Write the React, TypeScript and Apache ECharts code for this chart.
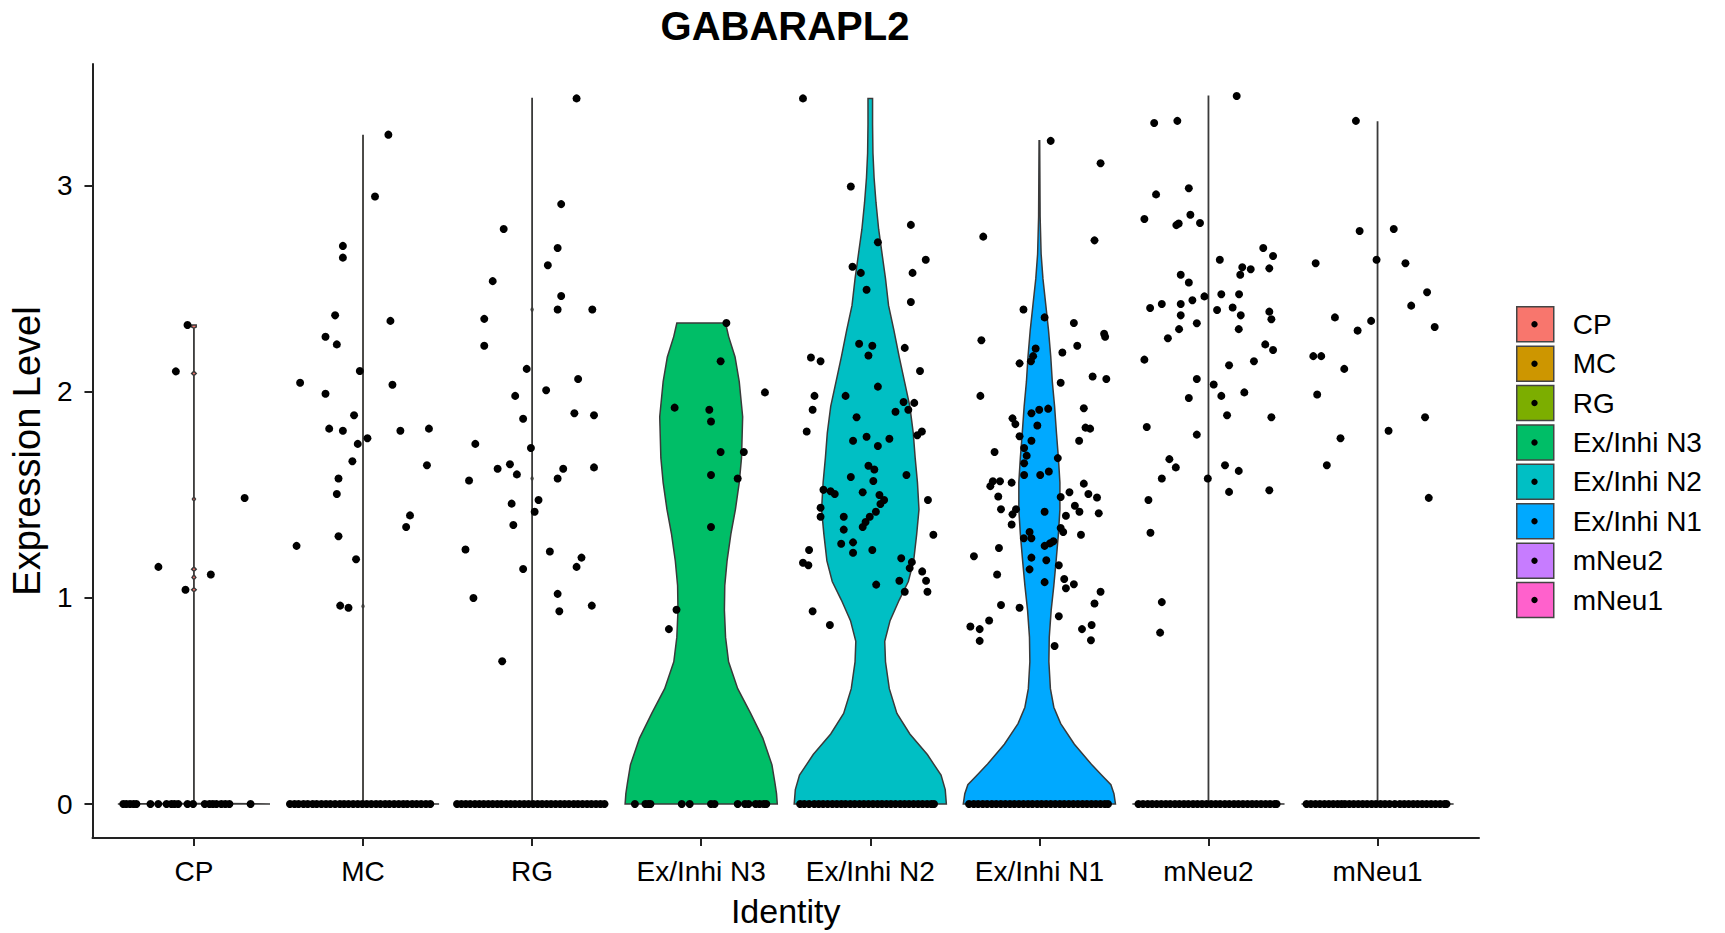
import React, { useEffect, useRef } from "react";
import * as echarts from "echarts";

// ---------------- data ----------------
const identities = ["CP", "MC", "RG", "Ex/Inhi N3", "Ex/Inhi N2", "Ex/Inhi N1", "mNeu2", "mNeu1"];
const colors = ["#F8766D", "#CD9600", "#7CAE00", "#00BE67", "#00BFC4", "#00A9FF", "#C77CFF", "#FF61CC"];
const yTicks = [0, 1, 2, 3];
const xTicks = [1, 2, 3, 4, 5, 6, 7, 8];

// violin outlines: [expression value, relative half-width (1 = widest violin)]
const violinCP = [[0, 1], [0.004, 0.002], [1.03, 0.002], [1.04, 0.03], [1.05, 0.002], [1.09, 0.002], [1.1, 0.025], [1.112, 0.002], [1.13, 0.002], [1.14, 0.03], [1.15, 0.002], [1.47, 0.002], [1.48, 0.02], [1.49, 0.002], [2.08, 0.002], [2.09, 0.03], [2.1, 0.002], [2.31, 0.002], [2.315, 0.03], [2.325, 0.03]];
const violinMC = [[0, 1], [0.004, 0.002], [0.95, 0.002], [0.96, 0.012], [0.97, 0.002], [3.245, 0.002]];
const violinRG = [[0, 1], [0.004, 0.002], [1.57, 0.002], [1.58, 0.012], [1.59, 0.002], [2.39, 0.002], [2.4, 0.012], [2.41, 0.002], [3.425, 0.002]];
const violinN3 = [[0, 1], [0.05, 0.99], [0.1, 0.97], [0.19, 0.93], [0.32, 0.81], [0.44, 0.65], [0.56, 0.48], [0.69, 0.36], [0.81, 0.32], [0.94, 0.305], [1.06, 0.31], [1.18, 0.34], [1.31, 0.39], [1.43, 0.45], [1.56, 0.5], [1.68, 0.53], [1.88, 0.545], [2.05, 0.5], [2.17, 0.445], [2.27, 0.36], [2.335, 0.32]];
const violinN2 = [[0, 1], [0.07, 0.985], [0.14, 0.93], [0.24, 0.75], [0.34, 0.52], [0.44, 0.35], [0.56, 0.25], [0.69, 0.2], [0.79, 0.19], [0.89, 0.26], [0.99, 0.38], [1.08, 0.5], [1.18, 0.57], [1.31, 0.61], [1.43, 0.64], [1.56, 0.62], [1.68, 0.59], [1.8, 0.565], [1.93, 0.52], [2.05, 0.45], [2.17, 0.38], [2.3, 0.31], [2.42, 0.24], [2.55, 0.2], [2.67, 0.155], [2.79, 0.11], [2.92, 0.075], [3.04, 0.05], [3.16, 0.035], [3.3, 0.03], [3.425, 0.03]];
const violinN1 = [[0, 1], [0.05, 0.98], [0.094, 0.94], [0.14, 0.82], [0.19, 0.69], [0.29, 0.46], [0.39, 0.28], [0.47, 0.19], [0.56, 0.145], [0.69, 0.125], [0.81, 0.13], [0.94, 0.155], [1.06, 0.19], [1.18, 0.22], [1.31, 0.25], [1.43, 0.27], [1.56, 0.27], [1.68, 0.25], [1.8, 0.225], [1.93, 0.2], [2.05, 0.17], [2.17, 0.15], [2.3, 0.12], [2.42, 0.085], [2.55, 0.047], [2.67, 0.023], [2.85, 0.01], [3.219, 0.004]];
const violinMNeu2 = [[0, 1], [0.004, 0.002], [3.435, 0.002]];
const violinMNeu1 = [[0, 1], [0.004, 0.002], [3.311, 0.002]];

// horizontal jitter offsets of cells with zero expression
const zeroCP = [-0.418, -0.4, -0.378, -0.357, -0.34, -0.257, -0.211, -0.162, -0.133, -0.115, -0.093, -0.038, -0.005, 0.064, 0.092, 0.112, 0.133, 0.162, 0.186, 0.21, 0.335];
const zeroMC = [-0.432, -0.405, -0.381, -0.352, -0.327, -0.298, -0.274, -0.246, -0.219, -0.193, -0.165, -0.137, -0.112, -0.086, -0.058, -0.031, -0.004, 0.022, 0.049, 0.077, 0.103, 0.131, 0.156, 0.184, 0.211, 0.238, 0.262, 0.291, 0.317, 0.344, 0.372, 0.398];
const zeroRG = [-0.444, -0.418, -0.392, -0.366, -0.338, -0.312, -0.286, -0.259, -0.233, -0.206, -0.181, -0.153, -0.127, -0.101, -0.074, -0.047, -0.021, 0.006, 0.033, 0.059, 0.086, 0.112, 0.139, 0.166, 0.192, 0.218, 0.246, 0.271, 0.298, 0.325, 0.351, 0.378, 0.404, 0.428];
const zeroN3 = [-0.392, -0.33, -0.312, -0.3, -0.115, -0.068, 0.058, 0.079, 0.216, 0.259, 0.28, 0.322, 0.345, 0.37, 0.385];
const zeroN2 = [-0.415, -0.39, -0.362, -0.331, -0.305, -0.279, -0.252, -0.224, -0.198, -0.171, -0.146, -0.118, -0.092, -0.064, -0.038, -0.011, 0.016, 0.043, 0.069, 0.096, 0.122, 0.149, 0.177, 0.203, 0.229, 0.256, 0.283, 0.309, 0.336, 0.361, 0.377];
const zeroN1 = [-0.416, -0.388, -0.362, -0.335, -0.309, -0.281, -0.255, -0.228, -0.201, -0.174, -0.148, -0.121, -0.094, -0.067, -0.041, -0.013, 0.013, 0.04, 0.067, 0.094, 0.121, 0.147, 0.174, 0.201, 0.228, 0.255, 0.281, 0.308, 0.334, 0.361, 0.387, 0.406];
const zeroMNeu2 = [-0.414, -0.387, -0.359, -0.333, -0.306, -0.279, -0.252, -0.226, -0.198, -0.172, -0.145, -0.119, -0.091, -0.065, -0.038, -0.011, 0.016, 0.043, 0.069, 0.097, 0.123, 0.151, 0.177, 0.204, 0.231, 0.258, 0.284, 0.311, 0.338, 0.364, 0.391, 0.403];
const zeroMNeu1 = [-0.42, -0.394, -0.367, -0.341, -0.314, -0.288, -0.262, -0.236, -0.213, -0.193, -0.167, -0.141, -0.114, -0.088, -0.062, -0.035, -0.009, 0.018, 0.044, 0.071, 0.102, 0.132, 0.158, 0.184, 0.211, 0.237, 0.264, 0.29, 0.317, 0.343, 0.37, 0.396, 0.408];

// expressing cells: [jitter offset, expression level]
const cellsCP = [[-0.038, 2.325], [-0.107, 2.1], [0.3, 1.485], [-0.21, 1.151], [0.1, 1.114], [-0.05, 1.04]];
const cellsMC = [[0.15, 3.249], [0.071, 2.949], [-0.119, 2.709], [-0.119, 2.652], [-0.165, 2.372], [-0.222, 2.268], [-0.155, 2.231], [0.162, 2.345], [-0.019, 2.102], [-0.372, 2.045], [0.174, 2.035], [-0.222, 1.991], [-0.053, 1.887], [-0.2, 1.822], [-0.119, 1.812], [0.221, 1.812], [0.39, 1.822], [-0.031, 1.748], [0.026, 1.775], [-0.063, 1.664], [0.378, 1.644], [-0.145, 1.58], [-0.155, 1.505], [0.278, 1.401], [0.255, 1.345], [-0.145, 1.3], [-0.393, 1.253], [-0.041, 1.188], [-0.135, 0.963], [-0.086, 0.953]];
const cellsRG = [[0.263, 3.425], [0.172, 2.912], [-0.168, 2.791], [0.151, 2.699], [0.093, 2.615], [-0.233, 2.538], [0.172, 2.466], [0.151, 2.4], [-0.283, 2.355], [-0.283, 2.224], [-0.032, 2.112], [0.272, 2.063], [0.083, 2.008], [-0.1, 1.981], [-0.053, 1.87], [0.25, 1.897], [-0.336, 1.748], [-0.007, 1.728], [-0.204, 1.627], [-0.131, 1.649], [-0.09, 1.6], [0.184, 1.627], [0.151, 1.58], [-0.373, 1.57], [0.038, 1.476], [-0.121, 1.458], [0.015, 1.419], [-0.111, 1.354], [-0.394, 1.235], [0.105, 1.226], [-0.053, 1.141], [0.263, 1.151], [0.292, 1.196], [-0.347, 1.0], [0.151, 1.02], [0.161, 0.936], [-0.177, 0.693], [0.356, 2.4], [0.366, 1.887], [0.366, 1.634], [0.353, 0.963]];
const cellsN3 = [[0.149, 2.335], [0.115, 2.149], [0.377, 1.998], [-0.157, 1.924], [0.048, 1.914], [0.058, 1.857], [0.115, 1.709], [0.252, 1.709], [0.058, 1.597], [0.216, 1.58], [0.058, 1.345], [-0.146, 0.943], [-0.191, 0.849]];
const cellsN2 = [[-0.398, 3.425], [-0.115, 2.997], [0.24, 2.811], [0.045, 2.727], [0.328, 2.642], [-0.105, 2.608], [-0.056, 2.578], [0.25, 2.578], [-0.022, 2.496], [0.24, 2.437], [-0.066, 2.234], [0.012, 2.224], [0.204, 2.214], [-0.011, 2.177], [-0.351, 2.167], [-0.294, 2.149], [0.294, 2.102], [0.045, 2.026], [-0.33, 1.981], [-0.146, 1.981], [0.197, 1.951], [0.26, 1.947], [-0.341, 1.914], [0.149, 1.904], [0.225, 1.914], [-0.081, 1.877], [-0.376, 1.808], [0.305, 1.808], [0.278, 1.79], [-0.022, 1.783], [0.113, 1.773], [-0.102, 1.763], [0.045, 1.738], [-0.115, 1.587], [0.214, 1.597], [-0.011, 1.642], [0.024, 1.624], [-0.045, 1.513], [0.018, 1.568], [0.054, 1.5], [0.082, 1.476], [0.06, 1.456], [-0.277, 1.525], [-0.235, 1.518], [-0.21, 1.505], [-0.294, 1.438], [0.341, 1.476], [0.033, 1.419], [-0.003, 1.394], [-0.028, 1.369], [-0.045, 1.345], [-0.294, 1.394], [-0.157, 1.394], [-0.157, 1.332], [0.373, 1.307], [-0.172, 1.263], [-0.102, 1.27], [-0.102, 1.22], [0.012, 1.233], [-0.362, 1.233], [0.183, 1.193], [-0.398, 1.171], [-0.366, 1.159], [0.246, 1.174], [0.233, 1.145], [0.307, 1.129], [0.172, 1.084], [0.33, 1.084], [0.035, 1.065], [0.204, 1.03], [0.338, 1.03], [-0.341, 0.936], [-0.239, 0.869]];
const cellsN1 = [[0.067, 3.219], [0.362, 3.11], [-0.332, 2.754], [0.326, 2.736], [-0.094, 2.4], [0.031, 2.362], [0.204, 2.335], [-0.343, 2.251], [0.383, 2.283], [0.389, 2.268], [0.224, 2.224], [-0.022, 2.211], [-0.037, 2.174], [0.136, 2.192], [-0.117, 2.139], [-0.05, 2.149], [0.315, 2.075], [0.396, 2.063], [0.126, 2.045], [-0.349, 1.981], [-0.047, 1.897], [0.052, 1.919], [-0.001, 1.914], [-0.159, 1.872], [-0.142, 1.844], [-0.012, 1.837], [0.263, 1.921], [0.273, 1.827], [0.3, 1.822], [0.235, 1.763], [-0.047, 1.763], [-0.117, 1.785], [-0.09, 1.728], [-0.075, 1.691], [-0.265, 1.709], [0.109, 1.679], [-0.09, 1.654], [-0.09, 1.597], [0.005, 1.597], [0.056, 1.614], [-0.275, 1.567], [-0.233, 1.567], [-0.29, 1.543], [-0.164, 1.56], [0.263, 1.555], [0.178, 1.513], [0.29, 1.505], [-0.243, 1.493], [0.126, 1.49], [0.341, 1.488], [-0.227, 1.431], [-0.138, 1.431], [0.21, 1.448], [0.237, 1.419], [0.031, 1.419], [-0.159, 1.406], [0.157, 1.399], [0.351, 1.411], [-0.164, 1.357], [0.126, 1.34], [0.141, 1.32], [-0.058, 1.32], [-0.092, 1.29], [-0.047, 1.29], [0.246, 1.307], [0.031, 1.253], [0.062, 1.265], [0.083, 1.275], [-0.387, 1.203], [-0.239, 1.243], [-0.047, 1.196], [0.041, 1.183], [0.115, 1.159], [-0.058, 1.139], [-0.25, 1.114], [0.147, 1.092], [0.204, 1.067], [0.031, 1.077], [0.157, 1.047], [0.362, 1.03], [-0.227, 0.966], [-0.117, 0.953], [0.326, 0.973], [0.115, 0.911], [-0.297, 0.891], [-0.408, 0.862], [-0.353, 0.849], [0.252, 0.849], [0.309, 0.869], [-0.353, 0.792], [0.305, 0.795], [0.09, 0.767]];
const cellsMNeu2 = [[0.167, 3.437], [-0.321, 3.306], [-0.184, 3.316], [-0.31, 2.959], [-0.116, 2.989], [-0.379, 2.84], [-0.176, 2.818], [-0.19, 2.81], [-0.107, 2.86], [-0.05, 2.82], [0.324, 2.699], [0.382, 2.66], [0.067, 2.642], [0.2, 2.605], [0.25, 2.596], [0.36, 2.6], [0.188, 2.569], [-0.164, 2.569], [-0.116, 2.531], [0.076, 2.474], [0.181, 2.474], [-0.024, 2.464], [-0.095, 2.445], [-0.276, 2.427], [-0.164, 2.427], [-0.345, 2.408], [0.051, 2.398], [0.143, 2.41], [0.36, 2.39], [-0.164, 2.372], [0.191, 2.372], [0.372, 2.353], [-0.069, 2.334], [-0.174, 2.305], [0.179, 2.305], [-0.24, 2.261], [0.336, 2.231], [0.382, 2.204], [-0.379, 2.157], [0.269, 2.149], [0.122, 2.13], [-0.069, 2.063], [0.031, 2.036], [0.212, 1.998], [0.076, 1.981], [-0.116, 1.971], [0.11, 1.887], [0.372, 1.877], [-0.365, 1.83], [-0.069, 1.793], [-0.231, 1.674], [-0.193, 1.634], [-0.276, 1.58], [0.098, 1.644], [0.179, 1.617], [-0.004, 1.58], [0.122, 1.515], [0.36, 1.523], [-0.355, 1.476], [-0.343, 1.317], [-0.276, 0.98], [-0.286, 0.832]];
const cellsMNeu1 = [[-0.128, 3.316], [-0.106, 2.781], [0.096, 2.791], [-0.366, 2.625], [-0.006, 2.642], [0.165, 2.625], [0.293, 2.484], [0.199, 2.419], [-0.252, 2.362], [-0.038, 2.345], [0.338, 2.315], [-0.118, 2.298], [-0.38, 2.174], [-0.333, 2.174], [-0.197, 2.112], [-0.357, 1.988], [0.281, 1.877], [-0.219, 1.775], [0.065, 1.812], [-0.3, 1.644], [0.303, 1.486]];

const violins = [violinCP, violinMC, violinRG, violinN3, violinN2, violinN1, violinMNeu2, violinMNeu1];
const zeroCells = [zeroCP, zeroMC, zeroRG, zeroN3, zeroN2, zeroN1, zeroMNeu2, zeroMNeu1];
const exprCells = [cellsCP, cellsMC, cellsRG, cellsN3, cellsN2, cellsN1, cellsMNeu2, cellsMNeu1];

// ---------------- component ----------------
export default function App() {
  const ref = useRef<HTMLDivElement>(null);

  useEffect(() => {
    document.body.style.margin = "0";
    const chart = echarts.init(ref.current as HTMLDivElement, null, { renderer: "svg" });
    const font = "'Liberation Sans', Arial, Helvetica, sans-serif";
    const halfMax = 0.45;

    const violinSeries = identities.map((name, i) => ({
      type: "custom",
      name,
      data: [[i + 1, 0]],
      encode: { x: 0, y: 1 },
      z: 2,
      silent: true,
      itemStyle: { color: colors[i] },
      renderItem: (_params: any, api: any) => {
        const prof = violins[i];
        const cx = i + 1;
        const left = prof.map(([v, f]) => api.coord([cx - f * halfMax, v]));
        const right = prof
          .slice()
          .reverse()
          .map(([v, f]) => api.coord([cx + f * halfMax, v]));
        return {
          type: "polygon",
          shape: { points: left.concat(right) },
          style: { fill: colors[i], stroke: "#3a3a3a", lineWidth: 1.5 },
        };
      },
    }));

    const cellData: number[][] = [];
    identities.forEach((_, i) => {
      zeroCells[i].forEach((o) => cellData.push([i + 1 + o, 0]));
      exprCells[i].forEach(([o, v]) => cellData.push([i + 1 + o, v]));
    });

    const legendTop = 306;
    const legendStep = 39.4;
    const legendRowH = 36.5; // height ECharts gives each legend row (text box)

    chart.setOption({
      animation: false,
      title: {
        text: "GABARAPL2",
        left: 785,
        top: 6,
        textAlign: "center",
        padding: 0,
        textStyle: { fontSize: 40, fontWeight: "bold", color: "#000", fontFamily: font },
      },
      grid: { left: 91, right: 246, top: 64, bottom: 95, containLabel: false },
      legend: {
        data: identities,
        orient: "vertical",
        left: 1516,
        top: legendTop,
        padding: 0,
        itemWidth: 37,
        itemHeight: 35,
        itemGap: legendStep - legendRowH,
        icon: "rect",
        selectedMode: false,
        itemStyle: { borderColor: "#444", borderWidth: 1.5 },
        textStyle: { fontSize: 28, color: "#000", fontFamily: font, padding: [0, 0, 0, 14] },
      },
      xAxis: {
        type: "value",
        min: 0.4,
        max: 8.6,
        name: "Identity",
        nameLocation: "middle",
        nameGap: 56,
        nameTextStyle: { fontSize: 34, color: "#000", fontFamily: font },
        axisLine: { show: true, onZero: false, lineStyle: { color: "#222", width: 2 } },
        axisTick: { show: true, customValues: xTicks, length: 8, lineStyle: { color: "#222", width: 2 } },
        axisLabel: {
          customValues: xTicks,
          formatter: (v: number) => identities[Math.round(v) - 1] ?? "",
          fontSize: 28,
          color: "#000",
          margin: 19,
          fontFamily: font,
        },
        splitLine: { show: false },
      },
      yAxis: {
        type: "value",
        min: -0.165,
        max: 3.592,
        name: "Expression Level",
        nameLocation: "middle",
        nameGap: 43,
        nameTextStyle: { fontSize: 38, color: "#000", fontFamily: font },
        axisLine: { show: true, onZero: false, lineStyle: { color: "#222", width: 2 } },
        axisTick: { show: true, customValues: yTicks, length: 8, lineStyle: { color: "#222", width: 2 } },
        axisLabel: { customValues: yTicks, fontSize: 28, color: "#000", margin: 20, fontFamily: font },
        splitLine: { show: false },
      },
      graphic: identities.map((_, i) => ({
        type: "circle",
        z: 100,
        silent: true,
        shape: { cx: 1516 + 18.5, cy: legendTop + legendRowH / 2 + i * legendStep, r: 3.2 },
        style: { fill: "#000" },
      })),
      series: [
        ...violinSeries,
        {
          type: "scatter",
          name: "cells",
          data: cellData,
          symbol: "circle",
          symbolSize: 8,
          z: 5,
          silent: true,
          itemStyle: { color: "#000", opacity: 1 },
        },
      ],
    });

    return () => chart.dispose();
  }, []);

  return <div ref={ref} style={{ width: 1725, height: 933 }} />;
}
